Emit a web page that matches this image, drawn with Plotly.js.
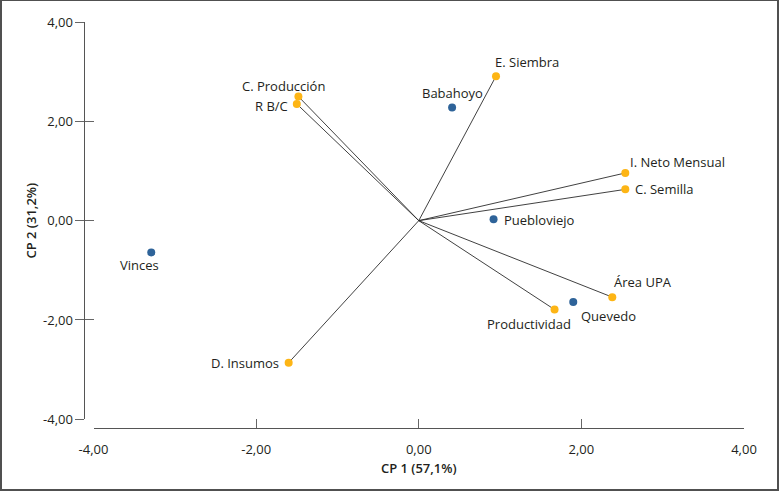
<!DOCTYPE html>
<html>
<head>
<meta charset="utf-8">
<script src="https://cdn.plot.ly/plotly-3.0.1.min.js"></script>
<style>
  html, body { margin: 0; padding: 0; background: #fff; }
  #wrap { position: relative; width: 779px; height: 492px; }
  #chart { width: 779px; height: 492px; }
  #frame { position: absolute; left: 0; top: 0; width: 779px; height: 491px; box-sizing: border-box;
           border-left: 2px solid #505050; border-top: 1px solid #505050; border-right: 2px solid #505050;
           border-bottom: 2px solid #505050; pointer-events: none; }
</style>
</head>
<body>
<div id="wrap"><div id="chart"></div><div id="frame"></div></div>
<script>
// Sites (scores)
const siteNames = ['Babahoyo', 'Puebloviejo', 'Quevedo', 'Vinces'];
const siteX = [0.41, 0.92, 1.90, -3.29];
const siteY = [2.28, 0.03, -1.64, -0.64];

// Variables (loadings)
const varNames = ['E. Siembra', 'C. Producción', 'R B/C', 'I. Neto Mensual', 'C. Semilla', 'Área UPA', 'Productividad', 'D. Insumos'];
const varX = [0.95, -1.48, -1.50, 2.54, 2.54, 2.38, 1.67, -1.60];
const varY = [2.91, 2.50, 2.35, 0.96, 0.63, -1.54, -1.79, -2.86];

// Axis ticks
const tickValues = [-4, -2, 0, 2, 4];
const tickLabels = ['-4,00', '-2,00', '0,00', '2,00', '4,00'];
const xTitle = 'CP 1 (57,1%)';
const yTitle = 'CP 2 (31,2%)';

// Label placement (style only)
const siteLabelPos = {
  'Babahoyo':    {xanchor: 'center', xshift: 0,   yshift: 14},
  'Puebloviejo': {xanchor: 'left',   xshift: 8,   yshift: -1},
  'Quevedo':     {xanchor: 'left',   xshift: 6,   yshift: -14},
  'Vinces':      {xanchor: 'center', xshift: -12, yshift: -13}
};
const varLabelPos = {
  'E. Siembra':      {xanchor: 'left',   xshift: -3,  yshift: 14},
  'C. Producción':   {xanchor: 'center', xshift: -15, yshift: 11},
  'R B/C':           {xanchor: 'right',  xshift: -7,  yshift: -2},
  'I. Neto Mensual': {xanchor: 'left',   xshift: 3,   yshift: 11},
  'C. Semilla':      {xanchor: 'left',   xshift: 8,   yshift: 0},
  'Área UPA':        {xanchor: 'left',   xshift: 0,   yshift: 15},
  'Productividad':   {xanchor: 'center', xshift: -26, yshift: -14},
  'D. Insumos':      {xanchor: 'right',  xshift: -8,  yshift: 0}
};

const FONT = 'Open Sans, Noto Sans, Arial, sans-serif';
const TXT = '#231f20';

// Vector lines from origin
const lx = [], ly = [];
for (let i = 0; i < varX.length; i++) { lx.push(0, varX[i], null); ly.push(0, varY[i], null); }

const traces = [
  {x: lx, y: ly, mode: 'lines', type: 'scatter', line: {color: '#2b2b2b', width: 0.9}, hoverinfo: 'skip', showlegend: false},
  {x: varX, y: varY, mode: 'markers', type: 'scatter', marker: {color: '#fdb515', size: 8}, showlegend: false, text: varNames},
  {x: siteX, y: siteY, mode: 'markers', type: 'scatter', marker: {color: '#2e6399', size: 8}, showlegend: false, text: siteNames},
  {x: [0], y: [0], yaxis: 'y2', mode: 'markers', marker: {opacity: 0}, hoverinfo: 'skip', showlegend: false}
];

const annotations = [];
siteNames.forEach((n, i) => {
  const p = siteLabelPos[n];
  annotations.push({x: siteX[i], y: siteY[i], xref: 'x', yref: 'y', text: n, showarrow: false,
    xanchor: p.xanchor, yanchor: 'middle', xshift: p.xshift, yshift: p.yshift,
    font: {family: FONT, size: 13, color: TXT}});
});
varNames.forEach((n, i) => {
  const p = varLabelPos[n];
  annotations.push({x: varX[i], y: varY[i], xref: 'x', yref: 'y', text: n, showarrow: false,
    xanchor: p.xanchor, yanchor: 'middle', xshift: p.xshift, yshift: p.yshift,
    font: {family: FONT, size: 13, color: TXT}});
});
// Y axis title
annotations.push({xref: 'paper', yref: 'paper', x: -0.0424, y: 0.525, text: yTitle, showarrow: false,
  textangle: -90, xanchor: 'center', yanchor: 'middle',
  font: {family: FONT, size: 13, color: TXT, weight: 600}});

const layout = {
  width: 779, height: 492,
  margin: {l: 60, r: 35, t: 22, b: 52},
  paper_bgcolor: '#fff', plot_bgcolor: '#fff',
  separators: ',.',
  font: {family: FONT, size: 13, color: TXT},
  showlegend: false,
  xaxis: {
    domain: [0.049, 1], range: [-4, 4], anchor: 'free', position: 0.028,
    showgrid: false, zeroline: false, showline: true, linecolor: '#555', linewidth: 1,
    ticks: 'inside', ticklen: 9, tickcolor: '#666', tickwidth: 1,
    tickmode: 'array', tickvals: tickValues, ticktext: tickLabels, ticklabelstandoff: 9,
    tickfont: {family: FONT, size: 13, color: TXT},
    title: {text: xTitle, standoff: 7, font: {family: FONT, size: 13, color: TXT, weight: 600}},
    automargin: false, fixedrange: true
  },
  yaxis: {
    domain: [0.0495, 1], range: [-4, 4], anchor: 'free', position: 0.0358,
    showgrid: false, zeroline: false, showline: true, linecolor: '#555', linewidth: 1,
    ticks: 'outside', ticklen: 9, tickcolor: '#666', tickwidth: 1,
    tickmode: 'array', tickvals: tickValues, ticktext: tickLabels,
    tickfont: {family: FONT, size: 13, color: TXT},
    automargin: false, fixedrange: true
  },
  yaxis2: {
    domain: [0.0495, 1], range: [-4, 4], anchor: 'free', position: 0.0358, overlaying: 'y',
    showgrid: false, zeroline: false, showline: false,
    ticks: 'inside', ticklen: 9, tickcolor: '#666', tickwidth: 1,
    tickmode: 'array', tickvals: tickValues, showticklabels: false, fixedrange: true
  },
  annotations: annotations
};

Plotly.newPlot('chart', traces, layout, {displayModeBar: false, staticPlot: true});
</script>
</body>
</html>
